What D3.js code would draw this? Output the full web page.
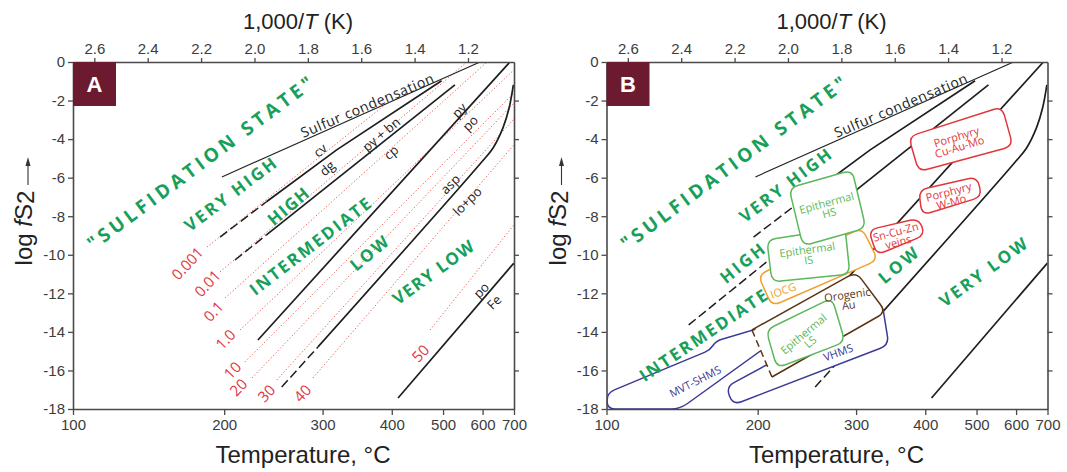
<!DOCTYPE html>
<html><head><meta charset="utf-8">
<script src="https://cdn.jsdelivr.net/npm/d3@7"></script>
<style>body{margin:0;background:#fff}svg{display:block}</style>
</head><body><svg id="c" width="1067" height="472"></svg>
<script>
// ---------- DATA (x in 1000/T K, y in log fS2) ----------
const tempTicks = [100,200,300,400,500,600,700];
const invTTicks = [2.6,2.4,2.2,2.0,1.8,1.6,1.4,1.2];
const logfTicks = [0,-2,-4,-6,-8,-10,-12,-14,-16,-18];

const sulfurCond = [[2.122,-5.96],[1.155,0]];
const cvDgDash   = [[2.129,-9.08],[1.955,-7.25]];
const cvDg       = [[1.955,-7.25],[1.692,-4.56],[1.299,-0.97]];
const pyBnCpDashA= [[2.073,-10.27],[1.955,-8.97]];
const pyBnCpDashB= [[2.372,-13.64],[1.955,-8.97]];
const pyBnCp     = [[1.955,-8.97],[1.249,-1.19]];
const pyPo       = [[1.987,-14.42],[1.043,0]];
const aspDash    = [[1.898,-16.86],[1.762,-14.78]];
const asp        = [[1.762,-14.78],[1.155,-5.29],[1.106,-4.46],[1.069,-3.42],[1.046,-2.39],[1.030,-1.19]];
const poFe       = [[1.462,-17.43],[1.028,-10.43]];

const fesLabels = ["0.001","0.01","0.1","1.0","10","20","30","40","50"];
const fesLines = [
  [[2.178,-9.60],[1.507,-2.18]],
  [[2.129,-10.89],[1.204,0]],
  [[2.110,-12.24],[1.129,0]],
  [[2.054,-13.90],[1.028,-0.41]],
  [[2.036,-15.56],[1.028,-1.61]],
  [[2.009,-16.39],[1.028,-2.13]],
  [[1.916,-16.49],[1.028,-2.96]],
  [[1.781,-16.39],[1.028,-4.30]],
  [[1.342,-13.90],[1.028,-8.45]]
];

const depositNames = ["MVT-SHMS","VHMS","Orogenic Au","Epithermal LS","IOCG","Epithermal IS","Epithermal HS","Sn-Cu-Zn veins","Porphyry W-Mo","Porphyry Cu-Au-Mo"];
const depositFields = [
  [[2.678,-18.0],[2.678,-17.17],[2.292,-14.94],[2.270,-14.47],[2.030,-13.49],[2.015,-14.11],[2.405,-18.0]],
  [[2.232,-16.86],[1.648,-12.45],[1.622,-14.68],[2.206,-17.79]],
  [[2.135,-13.90],[1.745,-10.89],[1.633,-12.97],[2.060,-16.34]],
  [[2.082,-13.90],[1.835,-12.24],[1.786,-14.52],[2.041,-15.87]],
  [[2.112,-11.05],[1.723,-8.61],[1.663,-10.27],[2.060,-12.66]],
  [[2.079,-9.23],[1.786,-8.61],[1.768,-11.00],[2.060,-11.41]],
  [[1.996,-6.54],[1.760,-5.60],[1.708,-8.61],[1.944,-9.54]],
  [[1.698,-8.71],[1.510,-8.11],[1.486,-8.97],[1.667,-10.01]],
  [[1.510,-6.64],[1.292,-5.95],[1.273,-6.99],[1.498,-7.94]],
  [[1.548,-3.87],[1.198,-2.32],[1.157,-4.36],[1.510,-5.69]]
];
// index of the field whose left (last-to-first vertex) edge is drawn dashed
const dashedEdgeField = 2;

// ---------- STYLE / LAYOUT ----------
const C = {axis:"#4a4a4a", tick:"#3c3c3c", green:"#17a05a", red:"#e3363b", dot:"#e8574f",
  box:["#3b3a96","#3b3a96","#5a3516","#5cb85c","#f0a02c","#5cb85c","#5cb85c","#e3363b","#e3363b","#e3363b"]};
const svg = d3.select("#c");
const FONT = "'Liberation Sans', Arial, sans-serif";
const FONT2 = "'Open Sans', 'Noto Sans', sans-serif";

function roundedPath(pts, r, open){
  const n=pts.length; let d="";
  for(let i=0;i<n;i++){
    const p1=pts[i];
    if(open && (i===0 || i===n-1)){ d+=(i===0?"M":"L")+p1[0]+","+p1[1]; continue; }
    const p0=pts[(i-1+n)%n], p2=pts[(i+1)%n];
    const v1=[p0[0]-p1[0],p0[1]-p1[1]], v2=[p2[0]-p1[0],p2[1]-p1[1]];
    const l1=Math.hypot(v1[0],v1[1]), l2=Math.hypot(v2[0],v2[1]);
    const rr=Math.min(r,l1/2,l2/2);
    const a=[p1[0]+v1[0]/l1*rr,p1[1]+v1[1]/l1*rr], b=[p1[0]+v2[0]/l2*rr,p1[1]+v2[1]/l2*rr];
    d+=(i===0?"M":"L")+a[0]+","+a[1]+"Q"+p1[0]+","+p1[1]+" "+b[0]+","+b[1];
  }
  return open? d : d+"Z";
}

function rtext(g, txt, x, y, rot, o){
  const t=g.append("text").attr("transform",`translate(${x},${y}) rotate(${rot})`)
    .attr("text-anchor","middle").attr("dominant-baseline","central")
    .attr("font-family",o.font||FONT2).attr("font-size",o.size).attr("fill",o.fill)
    .attr("font-weight",o.weight||400);
  if(o.len){t.attr("textLength",o.len).attr("lengthAdjust","spacing");}
  t.text(txt); return t;
}
function rtext2(g, lines, x, y, rot, o){
  const t=g.append("text").attr("transform",`translate(${x},${y}) rotate(${rot})`)
    .attr("text-anchor","middle").attr("font-family",FONT2).attr("font-size",o.size).attr("fill",o.fill);
  lines.forEach((l,i)=>t.append("tspan").attr("x",0).attr("y",(i-(lines.length-1)/2)*o.size*0.95+o.size*0.35).text(l));
}

function panel(ox, id){
  const left=73+ox;
  const x=d3.scaleLinear().domain([1000/(100+273.15),1000/(700+273.15)]).range([left,left+441]);
  const y=d3.scaleLinear().domain([0,-18]).range([62,409]);
  const g=svg.append("g");
  const cid="clip"+id;
  svg.append("clipPath").attr("id",cid).append("rect").attr("x",left).attr("y",62).attr("width",441).attr("height",347);
  const line=d3.line().x(d=>x(d[0])).y(d=>y(d[1]));
  const curve=d3.line().x(d=>x(d[0])).y(d=>y(d[1])).curve(d3.curveCatmullRom);
  const pg=g.append("g").attr("clip-path",`url(#${cid})`);

  if(id==="A"){
    fesLines.forEach(l=>pg.append("path").attr("d",line(l)).attr("fill","none")
      .attr("stroke",C.dot).attr("stroke-width",1).attr("stroke-dasharray","1.2,2.2"));
  }
  pg.append("path").attr("d",line(sulfurCond)).attr("fill","none").attr("stroke","#222").attr("stroke-width",1.1);
  [cvDg,pyBnCp,pyPo,poFe].forEach(l=>pg.append("path").attr("d",line(l)).attr("fill","none").attr("stroke","#1e1e1e").attr("stroke-width",1.7));
  pg.append("path").attr("d",curve(asp)).attr("fill","none").attr("stroke","#1e1e1e").attr("stroke-width",1.7);
  const dashed=[cvDgDash, id==="A"?pyBnCpDashA:pyBnCpDashB, aspDash];
  dashed.forEach(l=>pg.append("path").attr("d",line(l)).attr("fill","none").attr("stroke","#1e1e1e").attr("stroke-width",1.5).attr("stroke-dasharray","9,4"));

  if(id==="B"){
    depositFields.forEach((f,i)=>{
      const pts=f.map(d=>[x(d[0]),y(d[1])]);
      if(i===dashedEdgeField){
        pg.append("path").attr("d",roundedPath(pts,9)).attr("fill","#fff").attr("stroke","none");
        pg.append("path").attr("d",roundedPath(pts,9,true)).attr("fill","none").attr("stroke",C.box[i]).attr("stroke-width",1.5);
        pg.append("path").attr("d",line([f[f.length-1],f[0]])).attr("fill","none").attr("stroke",C.box[i])
          .attr("stroke-width",1.5).attr("stroke-dasharray","7,4");
      } else {
        pg.append("path").attr("d",roundedPath(pts,9)).attr("fill","#fff")
          .attr("stroke",C.box[i]).attr("stroke-width",1.5);
      }
    });
  }

  // axes
  const fmt=d=>String(d);
  const ax=g.append("g").attr("font-family",FONT);
  const aL=ax.append("g").attr("transform",`translate(${left},0)`).call(d3.axisLeft(y).tickValues(logfTicks).tickFormat(fmt).tickSize(5).tickSizeOuter(0).tickPadding(3));
  const aR=ax.append("g").attr("transform",`translate(${left+441},0)`).call(d3.axisRight(y).tickValues(logfTicks.slice(1,-1)).tickFormat("").tickSize(5).tickSizeOuter(0));
  const aT=ax.append("g").attr("transform",`translate(0,62)`).call(d3.axisTop(x).tickValues(invTTicks).tickFormat(d=>d.toFixed(1)).tickSize(4).tickSizeOuter(0).tickPadding(4));
  const aB=ax.append("g").attr("transform",`translate(0,409)`).call(d3.axisBottom(x).tickValues(tempTicks.map(t=>1000/(t+273.15))).tickFormat((d,i)=>tempTicks[i]).tickSize(6).tickSizeOuter(0).tickPadding(4));
  [aL,aR,aT,aB].forEach(a=>{
    a.select(".domain").attr("stroke",C.axis).attr("stroke-width",1.6);
    a.selectAll(".tick line").attr("stroke",C.axis).attr("stroke-width",1.3);
    a.selectAll(".tick text").attr("fill",C.tick).attr("font-size",15).attr("font-family",FONT);
  });

  // titles
  const tt=svg.append("text").attr("x",298+ox).attr("y",29).attr("text-anchor","middle")
    .attr("font-family",FONT).attr("font-size",22).attr("fill","#222");
  tt.append("tspan").text("1,000/");
  tt.append("tspan").attr("font-style","italic").text("T");
  tt.append("tspan").text(" (K)");
  svg.append("text").attr("x",303+ox).attr("y",463).attr("text-anchor","middle")
    .attr("font-family",FONT).attr("font-size",24).attr("fill","#222").text("Temperature, °C");
  const yl=svg.append("text").attr("transform",`translate(${32+ox},228) rotate(-90)`).attr("text-anchor","middle")
    .attr("font-family",FONT).attr("font-size",24).attr("fill","#222");
  yl.append("tspan").text("log ");
  yl.append("tspan").attr("font-style","italic").text("f");
  yl.append("tspan").text("S");
  yl.append("tspan").attr("dy",2).text("2");
  svg.append("line").attr("x1",28+ox).attr("x2",28+ox).attr("y1",185).attr("y2",163).attr("stroke","#333").attr("stroke-width",1.1);
  svg.append("path").attr("d",`M${28+ox},157 L${25.5+ox},166 L${30.5+ox},166 Z`).attr("fill","#333");

  // panel label
  svg.append("rect").attr("x",left).attr("y",62).attr("width",43).attr("height",44).attr("fill","#6b1a30");
  svg.append("text").attr("x",left+21.5).attr("y",92).attr("text-anchor","middle").attr("font-family",FONT)
    .attr("font-weight","bold").attr("font-size",22).attr("fill","#fff").text(id);

  const lg=svg.append("g");
  const G={size:17,fill:C.green,weight:700};
  rtext(lg,"\"SULFIDATION STATE\"",200+ox,163,-36.7,{...G,size:19,len:276});
  rtext(lg,"Sulfur condensation",367+ox,105,-23,{size:14,fill:"#222",len:143,font:FONT2});
  if(id==="A"){
    rtext(lg,"VERY HIGH",230,194,-37,{...G,len:110});
    rtext(lg,"HIGH",288,206,-40,{...G,len:48});
    rtext(lg,"INTERMEDIATE",310,246,-37.5,{...G,len:148});
    rtext(lg,"LOW",369,253,-40,{...G,len:44});
    rtext(lg,"VERY LOW",433,272,-36,{...G,len:96});
    const K={size:13,fill:"#222"};
    rtext(lg,"cv",320,150,-40,K); rtext(lg,"dg",327,168,-40,K);
    rtext(lg,"py + bn",381,134,-40,K); rtext(lg,"cp",391,152,-40,K);
    rtext(lg,"py",459,110,-45,K); rtext(lg,"po",470,123,-45,K);
    rtext(lg,"asp",450,184,-45,K); rtext(lg,"lo+po",467,201,-45,K);
    rtext(lg,"po",481,290,-45,K); rtext(lg,"Fe",494,302,-45,K);
    const R={size:15,fill:C.red};
    const lp=[[187,263],[207,283],[213,311],[225,339],[232,370],[238,387],[266,393],[302,393],[420,353]];
    fesLabels.forEach((s,i)=>rtext(lg,s,lp[i][0],lp[i][1],-47,R));
  } else {
    rtext(lg,"VERY HIGH",785,185,-37,{...G,len:110});
    rtext(lg,"HIGH",742,263,-39,{...G,len:52});
    rtext(lg,"INTERMEDIATE",703,335,-34,{...G,len:150});
    rtext(lg,"LOW",898,265,-40,{...G,len:46});
    rtext(lg,"VERY LOW",983,272,-36,{...G,len:104});
    rtext2(lg,["Porphyry","Cu-Au-Mo"],958,142,-17,{size:11,fill:C.red});
    rtext2(lg,["Porphyry","W-Mo"],950,197,-15,{size:11,fill:C.red});
    rtext2(lg,["Sn-Cu-Zn","veins"],897,237,-15,{size:11,fill:C.red});
    rtext2(lg,["Epithermal","HS"],828,208,-15,{size:11,fill:"#5cb85c"});
    rtext2(lg,["Epithermal","IS"],808,255,-8,{size:11,fill:"#5cb85c"});
    rtext(lg,"IOCG",783,290,-20,{size:11,fill:"#f0a02c"});
    rtext2(lg,["Orogenic","Au"],848,300,-8,{size:11,fill:"#5a3516"});
    rtext2(lg,["Epithermal","LS"],807,338,-40,{size:11,fill:"#5cb85c"});
    rtext(lg,"VHMS",838,352,-20,{size:11,fill:"#3b3a96"});
    rtext(lg,"MVT-SHMS",695,381,-27,{size:11,fill:"#3b3a96"});
  }
}
panel(0,"A");
panel(533.5,"B");
</script></body></html>
